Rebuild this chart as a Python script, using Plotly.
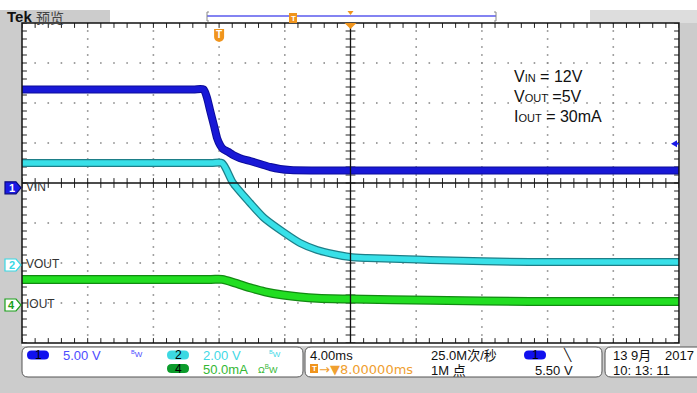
import numpy as np
import plotly.graph_objects as go

# ---------------- scope settings / data ----------------
time_div_ms = 4.0          # 4.00 ms/div
h_position_ms = 8.0        # trigger -> centre
ch1_volts_div = 5.0        # VIN   5.00 V/div
ch2_volts_div = 2.0        # VOUT  2.00 V/div
ch4_ma_div = 50.0          # IOUT  50.0 mA/div
ch1_offset_div = -0.12
ch2_offset_div = -2.05
ch4_offset_div = -3.05
trigger_level_v = 5.50

# VIN (V) vs time (ms, trigger = 0)
t_vin = [-12, -1.6, -0.95, -0.75, -0.55, -0.30, -0.12, 0.06, 0.24, 0.55, 0.85, 1.28, 1.89, 2.50, 3.11, 3.71, 4.32, 6.0, 28]
vin = [12.3, 12.3, 12.3, 11.35, 9.7, 7.7, 6.2, 5.35, 4.85, 4.5, 4.1, 3.7, 3.35, 2.97, 2.6, 2.35, 2.22, 2.16, 2.16]

# VOUT (V)
t_vout = [-12, -0.5, 0.18, 0.85, 1.89, 2.74, 3.90, 4.93, 5.97, 6.94, 7.98, 9.01, 11.02, 12.85, 18.9, 28]
vout = [5.1, 5.1, 5.1, 4.1, 3.1, 2.35, 1.65, 1.1, 0.75, 0.55, 0.4, 0.35, 0.3, 0.25, 0.15, 0.15]

# IOUT (mA)
t_iout = [-12, -0.5, 0.18, 0.97, 1.89, 2.80, 3.90, 4.93, 5.97, 7.98, 12.85, 18.9, 28]
iout = [32, 32, 32, 27.5, 21.5, 16.5, 12.5, 10, 8.5, 7.5, 6, 4.5, 4.5]

channel_ids = ["1", "2", "4"]
channel_labels = ["VIN", "VOUT", "IOUT"]

# ---------------- geometry ----------------
W, H = 697, 393
L, R, T, B = 22, 679, 23, 343
NX, NY = 10, 8
DIVPX = (B - T) / NY

x0 = h_position_ms - NX / 2 * time_div_ms
x1 = h_position_ms + NX / 2 * time_div_ms


def PX(x):
    return (x - L) / (R - L)


def PY(y):
    return (B - y) / (B - T)


def t_to_px(t):
    return L + (t - x0) / (x1 - x0) * (R - L)


def div_to_py(d):
    return (T + B) / 2 - d * DIVPX


def rrect_path(xa, ya, xb, yb, r):
    return (f"M {PX(xa + r)},{PY(ya)} L {PX(xb - r)},{PY(ya)} Q {PX(xb)},{PY(ya)} {PX(xb)},{PY(ya + r)} "
            f"L {PX(xb)},{PY(yb - r)} Q {PX(xb)},{PY(yb)} {PX(xb - r)},{PY(yb)} "
            f"L {PX(xa + r)},{PY(yb)} Q {PX(xa)},{PY(yb)} {PX(xa)},{PY(yb - r)} "
            f"L {PX(xa)},{PY(ya + r)} Q {PX(xa)},{PY(ya)} {PX(xa + r)},{PY(ya)} Z")


def poly_path(pts):
    s = "M " + " L ".join(f"{PX(a)},{PY(b)}" for a, b in pts) + " Z"
    return s


fig = go.Figure()
shapes = []
annotations = []

SANS = "Liberation Sans, Arial, sans-serif"
CJK = "Liberation Sans, Noto Sans CJK SC, sans-serif"


def text(xp, yp, s, size=13, color="#000000", anchor="left", family=SANS):
    annotations.append(dict(x=PX(xp), y=PY(yp), xref="paper", yref="paper", text=s, showarrow=False,
                            xanchor=anchor, yanchor="middle", borderpad=0,
                            font=dict(size=size, color=color, family=family)))


def bg_rect(xa, ya, xb, yb, color, layer="below", line=None):
    shapes.append(dict(type="rect", xref="paper", yref="paper", x0=PX(xa), x1=PX(xb), y0=PY(yb), y1=PY(ya),
                       fillcolor=color, line=dict(width=0) if line is None else line, layer=layer))


# ---------------- grid dots ----------------
gx, gy = [], []
sub_t = time_div_ms / 5
for j in range(1, NY):
    yd = j - NY / 2
    if yd == 0:
        continue
    for k in range(NX * 5 + 1):
        gx.append(x0 + k * sub_t)
        gy.append(yd)
for i in range(1, NX):
    if i == NX // 2:
        continue
    xt = x0 + i * time_div_ms
    for k in range(NY * 5 + 1):
        gx.append(xt)
        gy.append(-NY / 2 + k * 0.2)
fig.add_trace(go.Scatter(x=gx, y=gy, mode="markers", hoverinfo="skip", showlegend=False,
                         marker=dict(symbol="square", size=1.6, color="#8a8a8a", line=dict(width=0))))

# ---------------- waveforms ----------------
for tt, vv, ax, outer, inner, wo, wi in [
    (t_vin, vin, "y2", "#0c0c9a", "#1818d6", 8, 6),
    (t_vout, vout, "y3", "#1d7f88", "#38e0e8", 8, 5.5),
    (t_iout, iout, "y4", "#128a12", "#22de22", 9, 6.5),
]:
    fig.add_trace(go.Scatter(x=tt, y=vv, yaxis=ax, mode="lines", hoverinfo="skip", showlegend=False,
                             line=dict(color=outer, width=wo, shape="spline", smoothing=0.7)))
    fig.add_trace(go.Scatter(x=tt, y=vv, yaxis=ax, mode="lines", hoverinfo="skip", showlegend=False,
                             line=dict(color=inner, width=wi, shape="spline", smoothing=0.7)))

# ---------------- graticule ticks ----------------
ns_x, ns_y, ew_x, ew_y = [], [], [], []
for k in range(NX * 5 + 1):
    tx = x0 + k * sub_t
    for yy in (0, NY / 2, -NY / 2):
        ns_x.append(tx)
        ns_y.append(yy)
for k in range(NY * 5 + 1):
    yy = -NY / 2 + k * 0.2
    for xx in (h_position_ms, x0, x1):
        ew_x.append(xx)
        ew_y.append(yy)
fig.add_trace(go.Scatter(x=ns_x, y=ns_y, mode="markers", hoverinfo="skip", showlegend=False,
                         marker=dict(symbol="line-ns", size=7, line=dict(width=1, color="#222222"))))
fig.add_trace(go.Scatter(x=ew_x, y=ew_y, mode="markers", hoverinfo="skip", showlegend=False,
                         marker=dict(symbol="line-ew", size=7, line=dict(width=1, color="#222222"))))

# centre cross
shapes.append(dict(type="line", xref="x", yref="paper", x0=h_position_ms, x1=h_position_ms, y0=0, y1=1,
                   line=dict(color="#111111", width=1.3), layer="above"))
shapes.append(dict(type="line", xref="paper", yref="y", x0=0, x1=1, y0=0, y1=0,
                   line=dict(color="#111111", width=1.3), layer="above"))
# border
shapes.append(dict(type="rect", xref="paper", yref="paper", x0=0, x1=1, y0=0, y1=1,
                   line=dict(color="#111111", width=1.5), layer="above"))

# ---------------- frame / background ----------------
GRAY = "#cccccc"
bg_rect(0, 10, 22, 393, GRAY)
bg_rect(680, 10, 697, 346, GRAY)
bg_rect(0, 346, 697, 393, GRAY)
bg_rect(0, 10, 110, 23, GRAY)
bg_rect(590, 10, 697, 23, "#dddddd")

# status boxes
for xa, xb in [(22, 303), (305, 602), (605, 712)]:
    shapes.append(dict(type="path", xref="paper", yref="paper", path=rrect_path(xa, 347, xb, 377, 6),
                       fillcolor="#ffffff", line=dict(color="#555555", width=1), layer="below"))

# ---------------- top bar ----------------
text(6, 17, "<b>Tek</b>", 15, "#111111")
text(35, 17, "预览", 14, "#444444", family="Noto Sans CJK SC")
shapes.append(dict(type="line", xref="paper", yref="paper", x0=PX(207), x1=PX(496), y0=PY(16), y1=PY(16),
                   line=dict(color="#5a5aee", width=1.5)))
for p in ([(209, 12), (207, 12), (207, 21), (209, 21)], [(494, 12), (496, 12), (496, 21), (494, 21)]):
    shapes.append(dict(type="path", xref="paper", yref="paper",
                       path="M " + " L ".join(f"{PX(a)},{PY(b)}" for a, b in p),
                       line=dict(color="#888888", width=1)))
ORANGE = "#f0941c"
shapes.append(dict(type="rect", xref="paper", yref="paper", x0=PX(289), x1=PX(297), y0=PY(23), y1=PY(13),
                   fillcolor=ORANGE, line=dict(width=0)))
text(293, 18, "<b>T</b>", 8, "#ffffff", anchor="center")
cx = t_to_px(h_position_ms)
shapes.append(dict(type="path", xref="paper", yref="paper",
                   path=poly_path([(cx - 3, 11), (cx + 3, 11), (cx, 15)]), fillcolor=ORANGE, line=dict(width=0)))
shapes.append(dict(type="path", xref="paper", yref="paper",
                   path=poly_path([(cx - 6, 23), (cx + 6, 23), (cx, 29)]), fillcolor=ORANGE, line=dict(width=0),
                   layer="above"))
tx_px = t_to_px(0)
shapes.append(dict(type="path", xref="paper", yref="paper",
                   path=(f"M {PX(tx_px - 5)},{PY(29)} L {PX(tx_px + 5)},{PY(29)} L {PX(tx_px + 5)},{PY(37)} "
                         f"Q {PX(tx_px + 5)},{PY(41)} {PX(tx_px)},{PY(42)} Q {PX(tx_px - 5)},{PY(41)} "
                         f"{PX(tx_px - 5)},{PY(37)} Z"),
                   fillcolor=ORANGE, line=dict(width=0), layer="above"))
text(tx_px, 35, "<b>T</b>", 10, "#ffffff", anchor="center")

# trigger level arrow (right)
trig_py = div_to_py(trigger_level_v / ch1_volts_div + ch1_offset_div)
shapes.append(dict(type="path", xref="paper", yref="paper",
                   path=poly_path([(671, trig_py), (677, trig_py - 3.5), (677, trig_py + 3.5)]),
                   fillcolor="#1a1ae6", line=dict(width=0), layer="above"))
shapes.append(dict(type="line", xref="paper", yref="paper", x0=PX(676), x1=PX(679), y0=PY(trig_py),
                   y1=PY(trig_py), line=dict(color="#1a1ae6", width=1.5), layer="above"))

# ---------------- channel markers ----------------
for cid, lab, off, fill, edge, tcol in [
    ("1", "VIN", ch1_offset_div, "#1a1ae6", "#0a0a80", "#ffffff"),
    ("2", "VOUT", ch2_offset_div, "#ffffff", "#38d8e4", "#38d8e4"),
    ("4", "IOUT", ch4_offset_div, "#ffffff", "#1aa01a", "#1aa01a"),
]:
    yc = div_to_py(off)
    shapes.append(dict(type="path", xref="paper", yref="paper",
                       path=poly_path([(5, yc - 6), (16, yc - 6), (21, yc), (16, yc + 6), (5, yc + 6)]),
                       fillcolor=fill, line=dict(color=edge, width=1.2), layer="above"))
    text(11.5, yc, f"<b>{cid}</b>", 11, tcol, anchor="center")
    text(25, yc - 1, lab, 12, "#333333")

# ---------------- annotation text box ----------------
sm = "<span style='font-size:11px'>"
text(513, 76, f"V{sm}IN</span> = 12V", 16, "#111111")
text(513, 96, f"V{sm}OUT</span> =5V", 16, "#111111")
text(513, 116, f"I{sm}OUT</span> = 30mA", 16, "#111111")

# ---------------- status bar ----------------
def pill(xc, yc, color, label, w=22, h=9):
    shapes.append(dict(type="path", xref="paper", yref="paper",
                       path=rrect_path(xc - w / 2, yc - h / 2, xc + w / 2, yc + h / 2, h / 2),
                       fillcolor=color, line=dict(width=0)))
    text(xc, yc, label, 12, "#000000", anchor="center")


pill(38, 355, "#1010ee", "1")
text(62, 355, "5.00 V", 13, "#4c4cff")
text(130, 354, "<sup>B</sup>W", 8, "#4c4cff")
pill(178, 355, "#3cd8e2", "2")
text(202, 355, "2.00 V", 13, "#3fd8e6")
text(268, 354, "<sup>B</sup>W", 8, "#3fd8e6")
pill(178, 368.5, "#0c9c2c", "4")
text(202, 369, "50.0mA", 13, "#34b834")
text(257, 369, "Ω<sup>B</sup>W", 9, "#34b834")

text(309, 355, "4.00ms", 13, "#111111")
shapes.append(dict(type="rect", xref="paper", yref="paper", x0=PX(310), x1=PX(318), y0=PY(373), y1=PY(364),
                   fillcolor=ORANGE, line=dict(width=0)))
text(314, 368.5, "<b>T</b>", 8, "#ffffff", anchor="center")
text(318, 369, "→▼8.00000ms", 13, "#f0a030", family="DejaVu Sans, Liberation Sans")

text(430, 355, "25.0M次/秒", 13, "#111111", family=CJK)
text(430, 370, "1M 点", 13, "#111111", family=CJK)
pill(535, 355, "#1010ee", "1")
text(562, 354, "╲", 12, "#111111", family="DejaVu Sans")
text(574, 370, "5.50 V", 13, "#111111", anchor="right")

text(612, 355, "13 9月", 13, "#111111", family=CJK)
text(695, 355, "2017", 13, "#111111", anchor="right")
text(612, 370, "10: 13: 11", 13, "#111111")

# ---------------- layout ----------------
hidden = dict(visible=False, fixedrange=True, showgrid=False, zeroline=False)
fig.update_layout(
    width=W, height=H, autosize=False,
    margin=dict(l=L, r=W - R, t=T, b=H - B, pad=0),
    paper_bgcolor="#ffffff", plot_bgcolor="#ffffff",
    showlegend=False,
    xaxis=dict(range=[x0, x1], **hidden),
    yaxis=dict(range=[-NY / 2, NY / 2], **hidden),
    yaxis2=dict(range=[(-NY / 2 - ch1_offset_div) * ch1_volts_div, (NY / 2 - ch1_offset_div) * ch1_volts_div],
                overlaying="y", **hidden),
    yaxis3=dict(range=[(-NY / 2 - ch2_offset_div) * ch2_volts_div, (NY / 2 - ch2_offset_div) * ch2_volts_div],
                overlaying="y", **hidden),
    yaxis4=dict(range=[(-NY / 2 - ch4_offset_div) * ch4_ma_div, (NY / 2 - ch4_offset_div) * ch4_ma_div],
                overlaying="y", **hidden),
    shapes=shapes,
    annotations=annotations,
)

fig.write_html("out.html")
